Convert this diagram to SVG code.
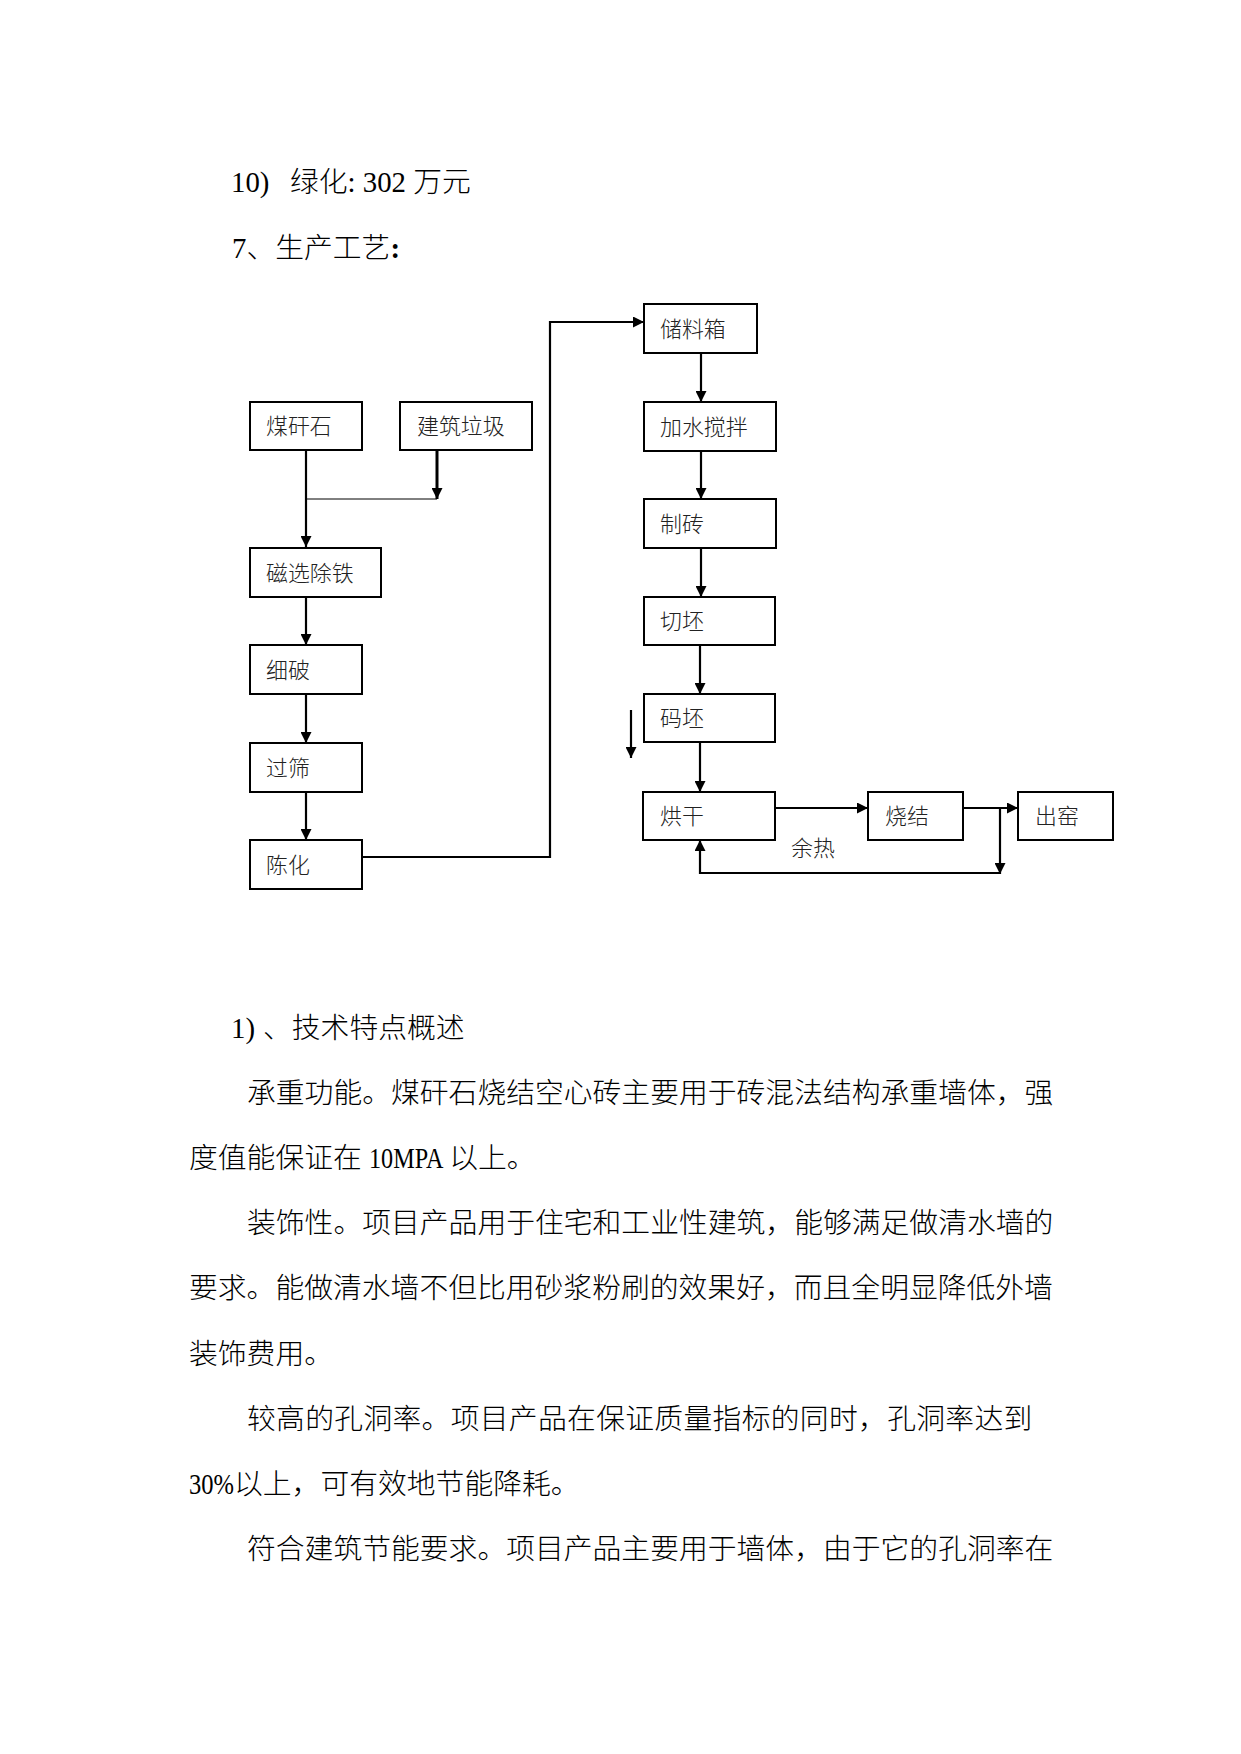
<svg xmlns="http://www.w3.org/2000/svg" width="1241" height="1754" viewBox="0 0 1241 1754">
<defs>
<marker id="ah" markerUnits="userSpaceOnUse" markerWidth="11" markerHeight="11" refX="11" refY="5.5" orient="auto" viewBox="0 0 11 11">
<path d="M0,0 L11,5.5 L0,11 z" fill="#000"/>
</marker>
<style>
.box{fill:#fff;stroke:#000;stroke-width:2}
.lbl{font-family:"Noto Sans CJK SC","Liberation Serif",sans-serif;font-size:21.9px;font-weight:300;fill:#222}
.body{font-family:"Liberation Serif","Noto Sans CJK SC",serif;font-size:28.8px;fill:#000}
.cjk{font-family:"Noto Sans CJK SC",sans-serif;font-weight:300}
.con{fill:none;stroke:#000;stroke-width:2.2}
.arr{marker-end:url(#ah)}
</style>
</defs>
<rect width="1241" height="1754" fill="#fff"/>

<g id="heading">
<text class="body" x="231" y="192">10)</text>
<text class="body" x="290" y="192"><tspan class="cjk">绿化</tspan>: 302 <tspan class="cjk">万元</tspan></text>
<text class="body" x="232" y="258">7<tspan class="cjk">、</tspan><tspan class="cjk" font-weight="700">生产工艺</tspan><tspan font-weight="700">:</tspan></text>
</g>

<g id="connectors">
<path class="con arr" d="M306,450 V547"/>
<path class="con arr" style="stroke-width:3" d="M437,450 V499"/>
<path class="con" style="stroke-width:1" d="M306,499 H437"/>
<path class="con arr" d="M306,597 V645"/>
<path class="con arr" d="M306,694 V743"/>
<path class="con arr" d="M306,792 V840"/>
<path class="con arr" d="M362,857 H550 V322 H644"/>
<path class="con arr" d="M701,353 V402"/>
<path class="con arr" d="M701,451 V499"/>
<path class="con arr" d="M701,548 V597"/>
<path class="con arr" d="M700,645 V694"/>
<path class="con arr" d="M700,742 V792"/>
<path class="con arr" d="M631,710 V758"/>
<path class="con arr" d="M775,808 H868"/>
<path class="con arr" d="M963,808 H1018"/>
<path class="con arr" d="M1000,808 V874"/>
<path class="con arr" d="M1000,873 H700 V840"/>
</g>

<g id="n-meiganshi"><rect class="box" x="250" y="402" width="112" height="48"/><text class="lbl" x="266" y="434">煤矸石</text></g>
<g id="n-jianzhulaji"><rect class="box" x="400" y="402" width="132" height="48"/><text class="lbl" x="417" y="434">建筑垃圾</text></g>
<g id="n-cixuan"><rect class="box" x="250" y="548" width="131" height="49"/><text class="lbl" x="266" y="581">磁选除铁</text></g>
<g id="n-xipo"><rect class="box" x="250" y="645" width="112" height="49"/><text class="lbl" x="266" y="678">细破</text></g>
<g id="n-guoshai"><rect class="box" x="250" y="743" width="112" height="49"/><text class="lbl" x="266" y="776">过筛</text></g>
<g id="n-chenhua"><rect class="box" x="250" y="840" width="112" height="49"/><text class="lbl" x="266" y="873">陈化</text></g>
<g id="n-chuliaoxiang"><rect class="box" x="644" y="304" width="113" height="49"/><text class="lbl" x="660" y="337">储料箱</text></g>
<g id="n-jiashui"><rect class="box" x="644" y="402" width="132" height="49"/><text class="lbl" x="660" y="435">加水搅拌</text></g>
<g id="n-zhizhuan"><rect class="box" x="644" y="499" width="132" height="49"/><text class="lbl" x="660" y="532">制砖</text></g>
<g id="n-qiepi"><rect class="box" x="644" y="597" width="131" height="48"/><text class="lbl" x="660" y="629">切坯</text></g>
<g id="n-mapi"><rect class="box" x="644" y="694" width="131" height="48"/><text class="lbl" x="660" y="726">码坯</text></g>
<g id="n-honggan"><rect class="box" x="643" y="792" width="132" height="48"/><text class="lbl" x="660" y="824">烘干</text></g>
<g id="n-shaojie"><rect class="box" x="868" y="792" width="95" height="48"/><text class="lbl" x="885" y="824">烧结</text></g>
<g id="n-chuyao"><rect class="box" x="1018" y="792" width="95" height="48"/><text class="lbl" x="1035" y="824">出窑</text></g>
<g id="l-yure"><text class="lbl" x="791" y="856">余热</text></g>

<g id="paragraphs">
<text class="body" x="231" y="1038">1)<tspan class="cjk" dx="8">、技术特点概述</tspan></text>
<text class="body cjk" x="247" y="1103">承重功能。煤矸石烧结空心砖主要用于砖混法结构承重墙体，强</text>
<text class="body" x="189" y="1168"><tspan class="cjk">度值能保证在</tspan> <tspan textLength="73" lengthAdjust="spacingAndGlyphs">10MPA</tspan> <tspan class="cjk">以上。</tspan></text>
<text class="body cjk" x="247" y="1233">装饰性。项目产品用于住宅和工业性建筑，能够满足做清水墙的</text>
<text class="body cjk" x="189" y="1298">要求。能做清水墙不但比用砂浆粉刷的效果好，而且全明显降低外墙</text>
<text class="body cjk" x="189" y="1364">装饰费用。</text>
<text class="body cjk" x="247" y="1429" letter-spacing="0.3">较高的孔洞率。项目产品在保证质量指标的同时，孔洞率达到</text>
<text class="body" x="189" y="1494"><tspan textLength="45" lengthAdjust="spacingAndGlyphs">30%</tspan><tspan class="cjk">以上，可有效地节能降耗。</tspan></text>
<text class="body cjk" x="247" y="1559">符合建筑节能要求。项目产品主要用于墙体，由于它的孔洞率在</text>
</g>
</svg>
